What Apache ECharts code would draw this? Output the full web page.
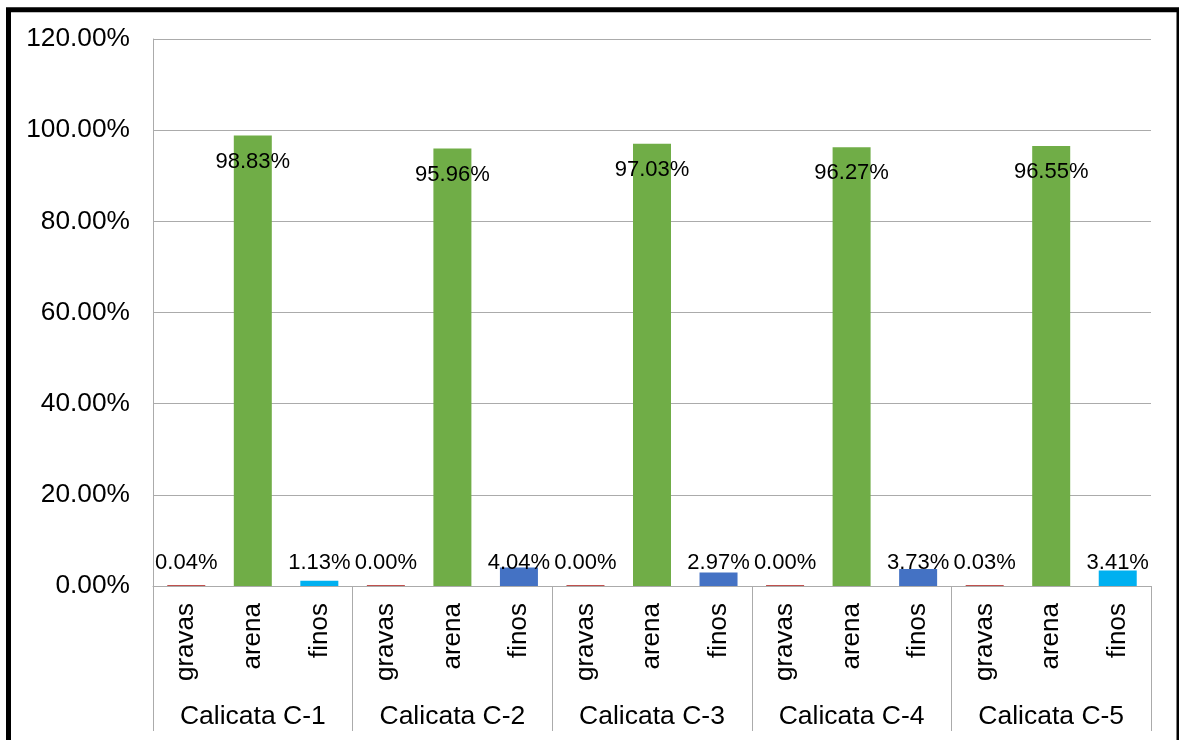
<!DOCTYPE html>
<html>
<head>
<meta charset="utf-8">
<script src="https://cdn.jsdelivr.net/npm/echarts@6/dist/echarts.min.js"></script>
<style>
html,body{margin:0;padding:0;background:#fff;}
#chart{width:1179px;height:740px;}
</style>
</head>
<body>
<div id="chart"></div>
<script>
var grupos = ['Calicata C-1', 'Calicata C-2', 'Calicata C-3', 'Calicata C-4', 'Calicata C-5'];
var tipos = ['gravas', 'arena', 'finos'];
var gravas = [0.04, 0.00, 0.00, 0.00, 0.03];
var arena = [98.83, 95.96, 97.03, 96.27, 96.55];
var finos = [1.13, 4.04, 2.97, 3.73, 3.41];
var colorFinos = ['#00B0F0', '#4472C4', '#4472C4', '#4472C4', '#00B0F0'];
var yTicks = [0, 20, 40, 60, 80, 100, 120];

var chart = echarts.init(document.getElementById('chart'));
var FONT = '"Liberation Sans", Arial, sans-serif';

// etiquetas pequeñas (gravas / finos) van a la misma altura
var lblBajo = {
    show: true, position: 'insideBottom', distance: 12,
    color: '#000', fontSize: 22, fontFamily: FONT,
    formatter: function (p) { return p.value.toFixed(2) + '%'; }
};
var lblArena = {
    show: true, position: 'insideTop', distance: 15,
    color: '#000', fontSize: 22, fontFamily: FONT,
    formatter: function (p) { return p.value.toFixed(2) + '%'; }
};

var cats = [], data = [];
for (var i = 0; i < grupos.length; i++) {
    cats.push(tipos[0], tipos[1], tipos[2]);
    data.push({value: gravas[i], itemStyle: {color: '#C0504D'}, label: lblBajo});
    data.push({value: arena[i], itemStyle: {color: '#70AD47'}, label: lblArena});
    data.push({value: finos[i], itemStyle: {color: colorFinos[i]}, label: lblBajo});
}

var gris = '#ababab';
var option = {
    backgroundColor: '#fff',
    animation: false,
    grid: {left: 153, right: 28, top: 39, bottom: 154},
    xAxis: [{
        type: 'category',
        data: cats,
        axisLine: {lineStyle: {color: gris, width: 1}},
        axisTick: {show: false},
        axisLabel: {
            interval: 0, rotate: 90, margin: 17,
            color: '#000', fontSize: 26, fontFamily: FONT
        }
    }, {
        type: 'category',
        data: grupos,
        position: 'bottom',
        axisLine: {show: false},
        axisTick: {show: true, length: 145, interval: 0, lineStyle: {color: gris, width: 1}},
        axisLabel: {interval: 0, margin: 117, color: '#000', fontSize: 26.5, fontFamily: FONT}
    }],
    yAxis: {
        type: 'value',
        min: yTicks[0], max: yTicks[yTicks.length - 1], interval: 20,
        axisLine: {show: true, lineStyle: {color: gris, width: 1}},
        axisTick: {show: false},
        splitLine: {lineStyle: {color: gris, width: 1}},
        axisLabel: {
            margin: 23, color: '#000', fontSize: 26.3, fontFamily: FONT,
            formatter: function (v) { return v.toFixed(2) + '%'; }
        }
    },
    series: [{
        type: 'bar',
        xAxisIndex: 0,
        data: data,
        barWidth: 38,
        barMinHeight: 1
    }],
    graphic: [{
        type: 'rect',
        shape: {x: 8.5, y: 9.8, width: 1170.5, height: 800},
        style: {fill: 'none', stroke: '#000', lineWidth: 5},
        silent: true
    }]
};
chart.setOption(option);
</script>
</body>
</html>
